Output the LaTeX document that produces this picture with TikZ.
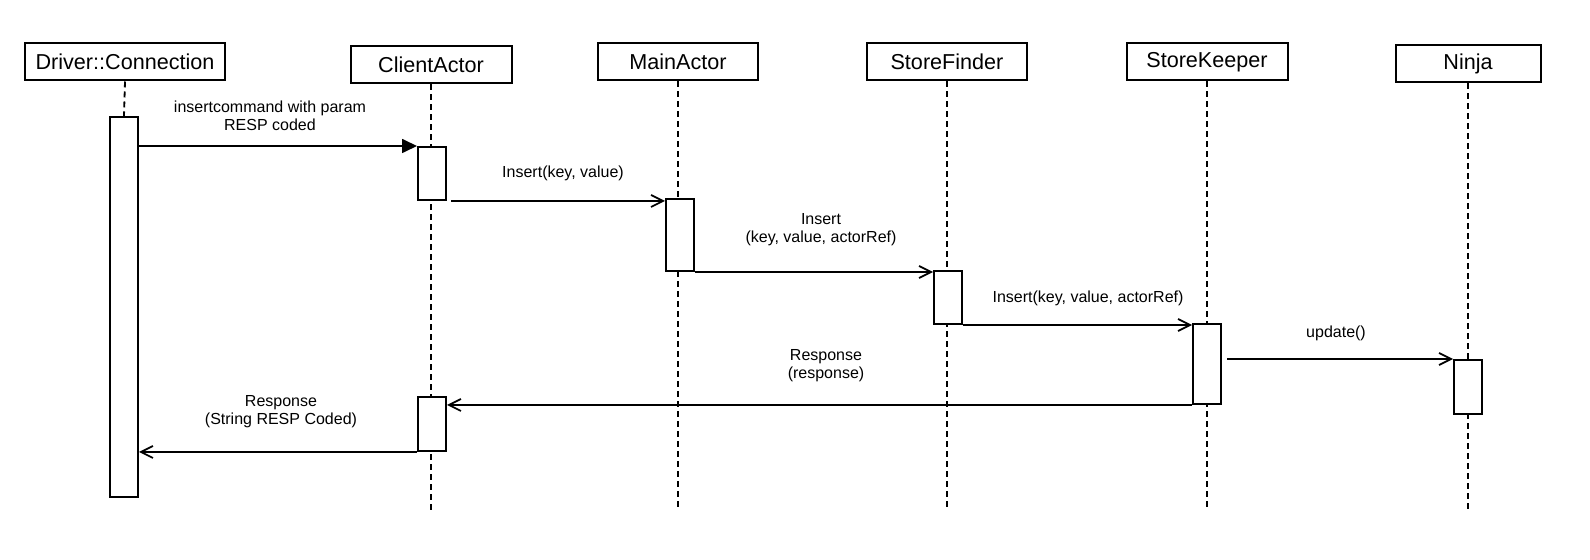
\documentclass[tikz,border=0pt]{standalone}
\usepackage{fontspec}
\setmainfont{Liberation Sans}
\usetikzlibrary{arrows.meta}

\tikzset{
  head/.style={draw,line width=1pt,minimum height=18.5pt,inner sep=0pt,font=\fontsize{10.8}{13}\selectfont},
  life/.style={line width=0.9pt,dash pattern=on 3pt off 2pt},
  act/.style={draw,fill=white,line width=1pt,minimum width=14pt,inner sep=0pt},
  msg/.style={line width=0.85pt,-{Straight Barb[length=6pt,width=6pt]}},
  lbl/.style={align=center,inner sep=0pt,font=\fontsize{8}{9}\selectfont}
}

\begin{document}
\begin{tikzpicture}[x=0.5pt,y=-0.5pt]
\fill[white] (0,0) rectangle (1590,560);
\useasboundingbox (0,0) rectangle (1590,560);
\foreach \nm/\x/\y/\w/\txt in {drv/125/62/100/Driver::Connection,cli/431/65/80.5/ClientActor,
  main/678/62/80/MainActor,finder/947/62/80/StoreFinder,keeper/1207/62/80.5/StoreKeeper,ninja/1468/64/72.5/Ninja}{
  \node[head,minimum width=\w pt] (\nm) at (\x,\y) {\txt};
}
\coordinate (bot) at (0,511);
\foreach \nm in {cli,main,finder,keeper,ninja}{
  \draw[life] (\nm.south) -- (\nm.south |- bot);
}
\node[act,minimum height=190pt] (drvAct) at (124,307) {};
\draw[life] (drv.south) -- (drvAct.north);
\node[act,minimum height=26.5pt] (cliAct1) at (432,173.5) {};
\node[act,minimum height=36pt] (mainAct) at (680,235) {};
\node[act,minimum height=26.5pt] (finderAct) at (948,297.5) {};
\node[act,minimum height=40pt] (keeperAct) at (1207,364) {};
\node[act,minimum height=27pt] (ninjaAct) at (1468,387) {};
\node[act,minimum height=27pt] (cliAct2) at (432,424) {};

\draw[line width=0.85pt,-{Triangle[length=7.5pt,width=7pt]}] (drvAct.east |- cliAct1.north) -- (cliAct1.north west);
\draw[msg] ([xshift=2pt]cliAct1.south east) -- (cliAct1.south east -| mainAct.west);
\draw[msg] (mainAct.south east) -- (mainAct.south east -| finderAct.west);
\draw[msg] (finderAct.south east) -- (finderAct.south east -| keeperAct.west);
\draw[msg] ([xshift=2.5pt]keeperAct.east |- ninjaAct.north) -- (ninjaAct.north west);
\draw[msg] (keeperAct.south west) -- (keeperAct.south west -| cliAct2.east);
\draw[msg] (cliAct2.south west) -- (cliAct2.south west -| drvAct.east);

\node[lbl] (m1) at (270,116) {insertcommand with param\\RESP coded};
\node[lbl] (m2) at (563,173) {Insert(key, value)};
\node[lbl] (m3) at (821,230) {Insert\\(key, value, actorRef)};
\node[lbl] (m4) at (1088,298) {Insert(key, value, actorRef)};
\node[lbl] (m5) at (1336,333) {update()};
\node[lbl] (m6) at (826,366) {Response\\(response)};
\node[lbl] (m7) at (281,412) {Response\\(String RESP Coded)};
\end{tikzpicture}
\end{document}
